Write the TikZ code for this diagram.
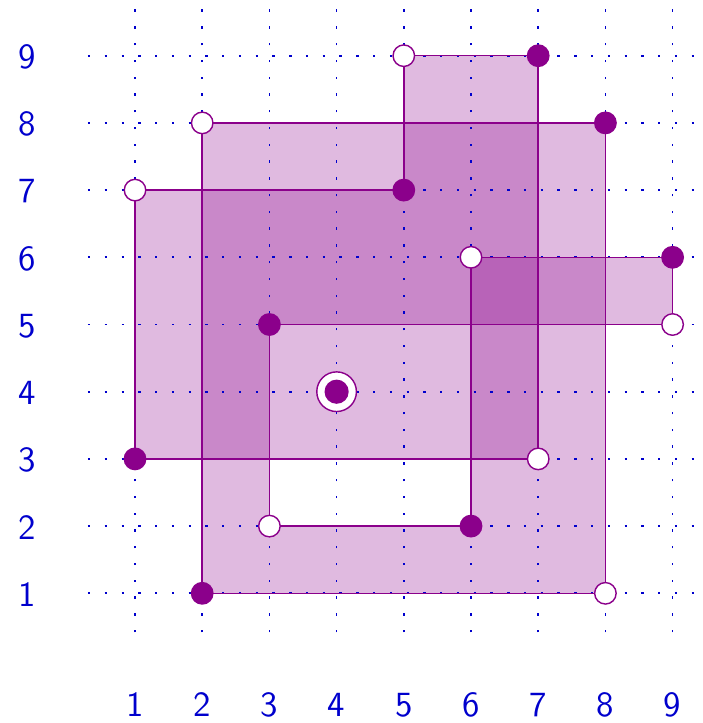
\documentclass[tikz,border=0pt]{standalone}
\usepackage{xcolor}
\usepackage{tikz}
\usetikzlibrary{positioning}

\definecolor{pt}{RGB}{139,0,139}
\definecolor{grd}{RGB}{0,0,205}

\begin{document}
\begin{tikzpicture}[
  dot/.style={circle, fill=pt, inner sep=0pt, minimum size=0.34cm},
  hole/.style={circle, draw=pt, fill=white, line width=0.6pt, inner sep=0pt, minimum size=0.32cm},
  lbl/.style={text=grd, inner sep=0pt, font=\fontsize{15}{18}\selectfont\sffamily},
  gridln/.style={grd, line width=0.75pt, dash pattern=on 1pt off 6.1pt},
  shade/.style={fill=pt, fill opacity=0.27},
  edge/.style={draw=pt, line width=0.65pt}
]
  \useasboundingbox (-1.009,-0.930) rectangle (9.438,9.829);
  % corner points
  \foreach \n/\x/\y in {a/5/9, b/7/9, c/7/3, d/1/3, e/1/7, f/5/7,
                        g/2/8, h/8/8, i/8/1, j/2/1,
                        k/6/6, l/9/6, m/9/5, n/3/5, o/3/2, p/6/2}
    \coordinate (\n) at (\x,\y);
  % shaded levels
  \fill[shade, even odd rule] (1,3) -- (1,7) -- (2,7) -- (2,8) -- (5,8) -- (5,9) -- (7,9) -- (7,8)
    -- (8,8) -- (8,6) -- (9,6) -- (9,5) -- (8,5) -- (8,1) -- (2,1) -- (2,3) -- cycle
    (3,2) -- (6,2) -- (6,3) -- (3,3) -- cycle;
  \fill[shade] (2,3) -- (2,7) -- (5,7) -- (5,8) -- (7,8) -- (7,6) -- (8,6) -- (8,5) -- (7,5)
    -- (7,3) -- (6,3) -- (6,5) -- (3,5) -- (3,3) -- cycle;
  \fill[shade] (6,5) rectangle (7,6);
  % grid
  \foreach \i in {1,...,9} {
    \draw[gridln] (\i,0.42) -- (\i,9.7);
    \draw[gridln] (0.3,\i) -- (9.38,\i);
    \node[lbl] (xl\i) at (\i,-0.66) {\i};
    \node[lbl] (yl\i) at (-0.6,\i-0.02) {\i};
  }
  % outlines
  \draw[edge] (a) -- (b) -- (c) -- (d) -- (e) -- (f) -- cycle;
  \draw[edge] (g) -- (h) -- (i) -- (j) -- cycle;
  \draw[edge] (k) -- (l) -- (m) -- (n) -- (o) -- (p) -- cycle;
  % points
  \foreach \n in {b,d,f,h,j,l,n,p} \node[dot] (\n d) at (\n) {};
  \foreach \n in {a,c,e,g,i,k,m,o} \node[hole] (\n h) at (\n) {};
  \node[hole, minimum size=0.59cm] (q) at (4,4) {};
  \node[dot, minimum size=0.36cm] (qd) at (q) {};
\end{tikzpicture}
\end{document}
